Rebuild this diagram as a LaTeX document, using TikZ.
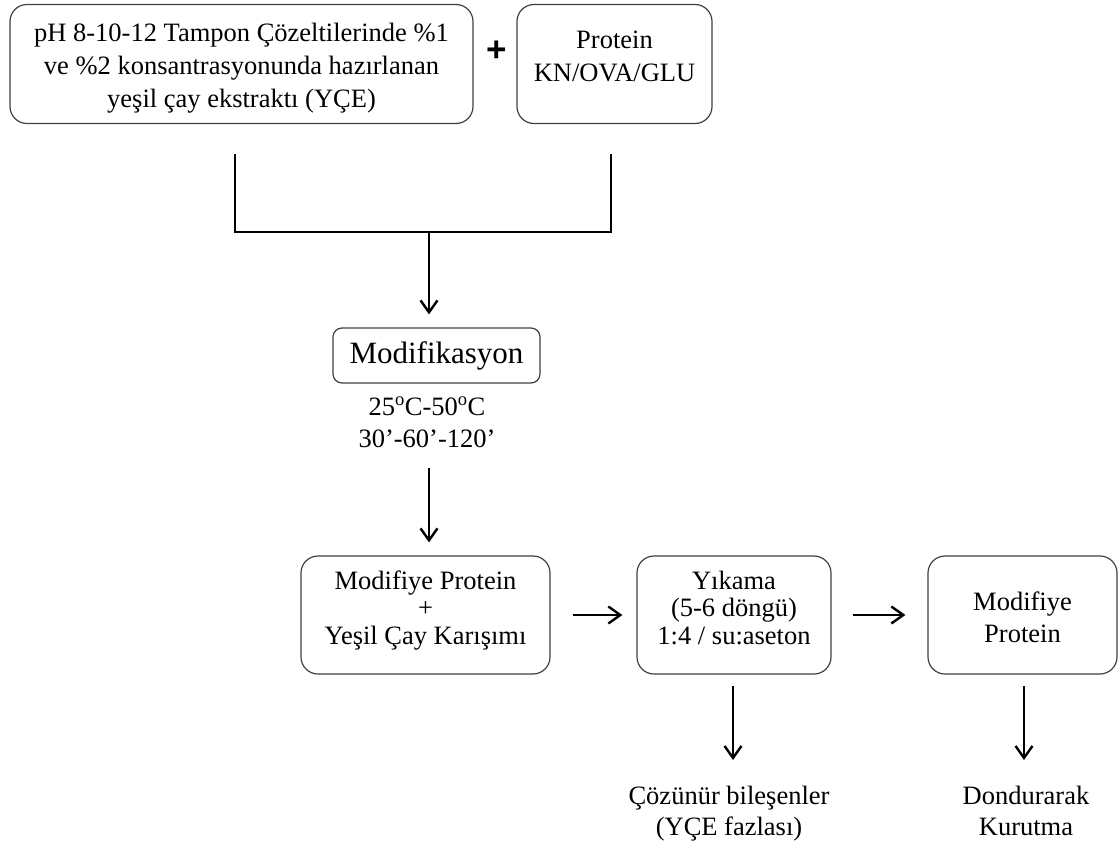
\documentclass[tikz,border=0pt]{standalone}
\usepackage{fontspec}
\setmainfont{Liberation Serif}
\newfontfamily\plusfont{Liberation Sans}
\usetikzlibrary{arrows.meta}
% #1: raise of the last baseline above the node centre, #2: lines
\newcommand{\blocktext}[2]{\raisebox{#1}[0pt][0pt]{\begin{tabular}[b]{@{}c@{}}#2\end{tabular}}}
\begin{document}
\begin{tikzpicture}[x=1pt,y=-1pt,
  box/.style={draw=black!75, line width=1.2pt, rounded corners=17pt, inner sep=0pt},
  bigtxt/.style={font=\fontsize{26.5}{33}\selectfont},
  midtxt/.style={font=\fontsize{26.5}{27.5}\selectfont},
  plain/.style={inner sep=0pt},
  conn/.style={line width=2.2pt, line cap=rect},
  arr/.style={line width=2.4pt, -{Straight Barb[length=12pt,width=17pt,line width=2.4pt]}}]
\useasboundingbox (0,0) rectangle (1119,846);

% top row
\node[box, bigtxt, minimum width=463pt, minimum height=119pt] (ext) at (241.5,64)
  {\blocktext{-43pt}{pH 8-10-12 Tampon Çözeltilerinde \%1\\ve \%2 konsantrasyonunda hazırlanan\\yeşil çay ekstraktı (YÇE)}};
\node[plain, font=\plusfont\bfseries\fontsize{35}{35}\selectfont] (plus) at (497,51) {+};
\node[box, bigtxt, minimum width=195pt, minimum height=119pt] (prot) at (614.5,64)
  {\blocktext{-17pt}{Protein\\KN/OVA/GLU}};

% joining bracket
\coordinate (l1) at (235,155);
\coordinate (r1) at (611,155);
\coordinate (l2) at (235,232);
\coordinate (r2) at (611,232);
\coordinate (j) at (429,232);
\draw[conn] (l1) -- (l2) -- (r2) -- (r1);

% modification
\node[box, rounded corners=9pt, font=\fontsize{31}{31}\selectfont, minimum width=207pt, minimum height=55pt] (mod) at (436.5,355.5) {Modifikasyon};
\draw[arr] (j) -- ([yshift=13pt]mod.north -| j);
\node[plain, font=\fontsize{26.5}{32}\selectfont] (cond) at (427,447)
  {\blocktext{0pt}{25\textsuperscript{o}C-50\textsuperscript{o}C\\30’-60’-120’}};

% middle row
\node[box, midtxt, minimum width=249pt, minimum height=118pt] (mix) at (425.5,615)
  {\blocktext{-29pt}{Modifiye Protein\\+\\Yeşil Çay Karışımı}};
\node[box, midtxt, minimum width=194pt, minimum height=118pt] (wash) at (734,615)
  {\blocktext{-29pt}{Yıkama\\(5-6 döngü)\\1:4 / su:aseton}};
\node[box, font=\fontsize{26.5}{32}\selectfont, minimum width=189pt, minimum height=118pt] (prod) at (1022.5,615)
  {\blocktext{-27pt}{Modifiye\\Protein}};

\coordinate (c1) at (429,468);
\draw[arr] (c1) -- ([yshift=13pt]c1 |- mix.north);

\draw[arr] ([xshift=22pt]mix.east) -- ([xshift=-14pt]wash.west);
\draw[arr] ([xshift=21pt]wash.east) -- ([xshift=-22pt]prod.west);

% bottom results
\node[plain, font=\fontsize{26.5}{31}\selectfont] (sol) at (729,835)
  {\blocktext{0pt}{Çözünür bileşenler\\(YÇE fazlası)}};
\node[plain, font=\fontsize{26.5}{31}\selectfont] (dry) at (1026,835)
  {\blocktext{0pt}{Dondurarak\\Kurutma}};
\coordinate (w1) at (733,686);
\coordinate (p1) at (1024,686);
\draw[arr] (w1) -- (w1 |- 0,760);
\draw[arr] (p1) -- (p1 |- 0,760);
\end{tikzpicture}
\end{document}
